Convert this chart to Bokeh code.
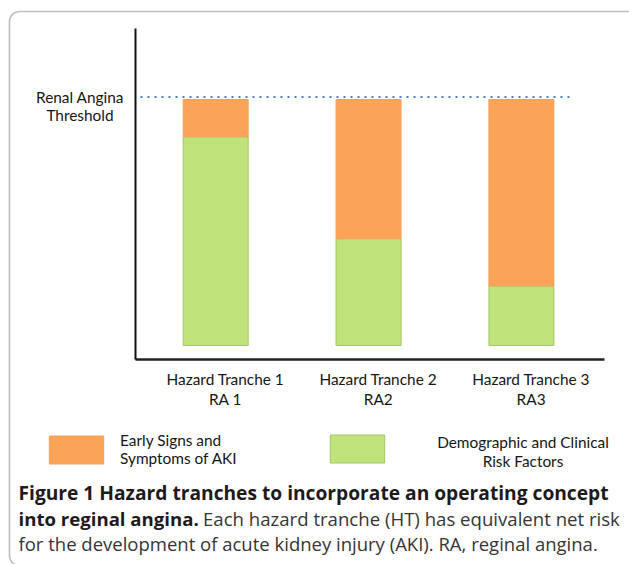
from bokeh.plotting import figure
from bokeh.models import (Range1d, Label, Legend, LegendItem, BoxAnnotation, ColumnDataSource,
                          FixedTicker)
from bokeh.embed import file_html
from bokeh.resources import INLINE

# ---------------- data ----------------
categories = ["Hazard Tranche 1\nRA 1", "Hazard Tranche 2\nRA2", "Hazard Tranche 3\nRA3"]
risk_factors = [0.84, 0.43, 0.24]     # green, bottom segment
early_signs = [0.15, 0.56, 0.75]      # orange, top segment
threshold = 1.0
threshold_label = "Renal Angina\nThreshold"
series_names = ["Demographic and Clinical\nRisk Factors", "Early Signs and\nSymptoms of AKI"]
caption_bold_1 = "Figure 1 Hazard tranches to incorporate an operating concept"
caption_bold_2 = "into reginal angina."
caption_reg_2 = "Each hazard tranche (HT) has equivalent net risk"
caption_reg_3 = "for the development of acute kidney injury (AKI). RA, reginal angina."

# ---------------- layout (pixels of the 629x564 canvas) ----------------
W, H = 629, 564
CAT_PX0, CAT_STEP = 215.2, 152.85      # centre of first category, spacing
ZERO_PX, UNIT_PX = 345.0, 248.5        # baseline pixel row, pixels per unit
AXIS_LEFT_PX, AXIS_RIGHT_PX = 135, 604
AXIS_BOTTOM_PX, AXIS_TOP_PX = 359, 28
LABEL_SHIFT_PX = 9.7                   # category labels sit a little right of the bars


def px_x(px):
    return (px - CAT_PX0) / CAT_STEP


def px_y(py):
    return (ZERO_PX - py) / UNIT_PX


# ---------------- style ----------------
GREEN = "#BFE27A"
GREEN_LINE = "#A2C766"
ORANGE = "#FBA457"
ORANGE_LINE = "#F0A262"
DOT_BLUE = "#4A7FC4"
LABEL_FONT = "Lato"
LABEL_SIZE = "15.4px"
CAP_FONT = "Open Sans"
TXT = "#161616"

positions = list(range(len(categories)))
src = ColumnDataSource(dict(x=positions, risk=risk_factors, early=early_signs))

p = figure(
    x_range=Range1d(px_x(0), px_x(W)),
    y_range=Range1d(px_y(H), px_y(0)),
    width=W, height=H, min_border=0,
    output_backend="svg", toolbar_location=None,
)
p.extra_x_ranges = {"labels": Range1d(px_x(-LABEL_SHIFT_PX), px_x(W - LABEL_SHIFT_PX))}
p.background_fill_color = "white"
p.border_fill_color = "white"
p.outline_line_color = None
p.xgrid.visible = False
p.ygrid.visible = False

rs = p.vbar_stack(["risk", "early"], x="x", width=65 / CAT_STEP, source=src,
                  fill_color=[GREEN, ORANGE], line_color=[GREEN_LINE, ORANGE_LINE], line_width=1)
r_green, r_orange = rs

# threshold dotted line
p.segment(x0=[px_x(140)], y0=[threshold], x1=[px_x(573)], y1=[threshold],
          line_color=DOT_BLUE, line_width=2.2, line_dash="2 5")

# axes (drawn inside the frame at fixed locations)
yax = p.yaxis[0]
yax.fixed_location = px_x(AXIS_LEFT_PX)
yax.bounds = (px_y(AXIS_BOTTOM_PX), px_y(AXIS_TOP_PX))
yax.ticker = FixedTicker(ticks=[])
yax.axis_line_color = "#111111"
yax.axis_line_width = 2
yax.major_tick_line_color = None
yax.minor_tick_line_color = None

xax = p.xaxis[0]
xax.x_range_name = "labels"
xax.fixed_location = px_y(AXIS_BOTTOM_PX)
xax.bounds = (px_x(AXIS_LEFT_PX - LABEL_SHIFT_PX), px_x(AXIS_RIGHT_PX - LABEL_SHIFT_PX))
xax.ticker = FixedTicker(ticks=positions)
xax.major_label_overrides = dict(zip(positions, categories))
xax.axis_line_color = "#222222"
xax.axis_line_width = 2.5
xax.major_tick_line_color = None
xax.minor_tick_line_color = None
xax.major_tick_out = 0
xax.major_tick_in = 0
xax.major_label_standoff = 10
xax.major_label_text_font = LABEL_FONT
xax.major_label_text_font_size = LABEL_SIZE
xax.major_label_text_color = TXT
xax.major_label_text_line_height = 1.12

# threshold label
p.add_layout(Label(x=79.5, y=threshold, x_units="screen", y_units="data", text=threshold_label,
                   text_align="center", text_baseline="top", y_offset=9,
                   text_font=LABEL_FONT, text_font_size=LABEL_SIZE, text_color=TXT,
                   text_line_height=1.0))

# legends (area glyphs are drawn at 80% of the glyph box)
leg_kw = dict(glyph_width=68, glyph_height=35, label_text_font=LABEL_FONT,
              label_text_font_size=LABEL_SIZE, label_text_color=TXT,
              label_text_line_height=1.09, padding=0, margin=0, border_line_color=None,
              background_fill_alpha=0)
leg1 = Legend(items=[LegendItem(label=series_names[1], renderers=[r_orange])],
              location=(42, H - 467), label_standoff=10, **leg_kw)
leg2 = Legend(items=[LegendItem(label="", renderers=[r_green])],
              location=(323, H - 466), label_standoff=0, **leg_kw)
p.add_layout(leg1)
p.add_layout(leg2)
# centred text of the second legend entry
p.add_layout(Label(x=522.5, y=H - 451, x_units="screen", y_units="screen", text=series_names[0],
                   text_align="center", text_baseline="middle", text_font=LABEL_FONT,
                   text_font_size=LABEL_SIZE, text_color=TXT, text_line_height=1.09))

# caption
cap_kw = dict(x_units="screen", y_units="screen", text_font=CAP_FONT,
              text_baseline="middle", text_align="left")
p.add_layout(Label(x=18, y=H - 492, text=caption_bold_1, text_font_style="bold",
                   text_font_size="19.2px", text_color="#1E1A1B", **cap_kw))
p.add_layout(Label(x=18, y=H - 518, text=caption_bold_2, text_font_style="bold",
                   text_font_size="18.6px", text_color="#1E1A1B", **cap_kw))
p.add_layout(Label(x=202.5, y=H - 518, text=caption_reg_2, text_font_size="18.6px",
                   text_color="#363435", **cap_kw))
p.add_layout(Label(x=18, y=H - 543, text=caption_reg_3, text_font_size="18.5px",
                   text_color="#363435", **cap_kw))

# rounded outer frame
p.add_layout(BoxAnnotation(left=9, right=W + 12, top=H - 11, bottom=-1,
                           left_units="screen", right_units="screen", top_units="screen",
                           bottom_units="screen", fill_alpha=0, line_color="#2a2a2a",
                           line_width=1.6, border_radius=10))

open("out.html", "w").write(file_html(p, INLINE))
